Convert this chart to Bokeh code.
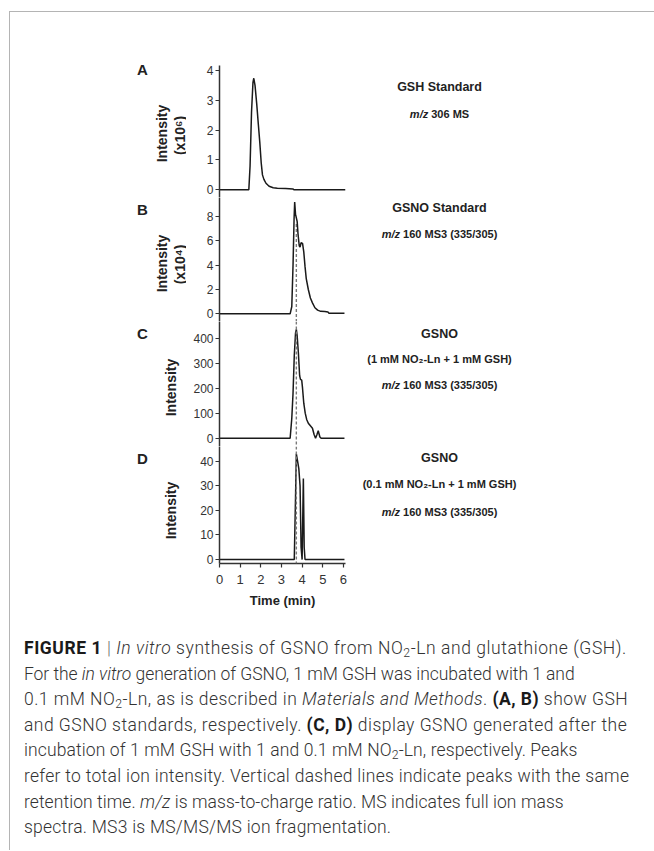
from math import pi
from bokeh.plotting import figure
from bokeh.models import Span, Div, Range1d, FixedTicker
from bokeh.layouts import column, row
from bokeh.core.properties import value
from bokeh.embed import file_html
from bokeh.resources import INLINE

# ---------------- data ----------------
time_a = [0, 1.42, 1.48, 1.55, 1.62, 1.66, 1.72, 1.80, 1.88, 1.95, 2.02, 2.08, 2.15, 2.25, 2.40, 2.60, 2.80, 3.20, 3.55, 3.60, 6.10]
int_a = [0, 0, 0.8, 2.6, 3.6, 3.74, 3.5, 2.9, 2.2, 1.6, 0.9, 0.5, 0.35, 0.22, 0.12, 0.07, 0.05, 0.04, 0.03, 0.0, 0.0]

time_b = [0, 3.42, 3.50, 3.56, 3.61, 3.64, 3.68, 3.72, 3.76, 3.80, 3.86, 3.90, 3.95, 4.02, 4.08, 4.14, 4.20, 4.30, 4.40, 4.50, 4.62, 4.75, 4.90, 5.10, 5.25, 5.30, 6.05]
int_b = [0, 0, 0.6, 4.0, 7.8, 9.2, 8.2, 7.9, 7.6, 6.6, 5.6, 5.5, 5.85, 5.8, 5.1, 3.9, 2.9, 2.0, 1.3, 0.9, 0.5, 0.3, 0.2, 0.18, 0.15, 0.05, 0.05]

time_c = [0, 3.42, 3.50, 3.56, 3.62, 3.68, 3.72, 3.76, 3.82, 3.88, 3.92, 3.98, 4.02, 4.08, 4.15, 4.22, 4.30, 4.40, 4.50, 4.58, 4.65, 4.72, 4.78, 4.86, 4.92, 6.05]
int_c = [0, 0, 80, 180, 330, 420, 435, 410, 340, 250, 235, 232, 200, 140, 100, 75, 60, 50, 40, 15, 0, 15, 30, 5, 0, 0]

time_d = [0, 3.62, 3.68, 3.72, 3.78, 3.84, 3.90, 3.95, 4.00, 4.06, 4.10, 4.14, 6.05]
int_d = [0, 0, 25, 43, 40, 37, 30, 5, 0, 33, 5, 0, 0]

retention_time = 3.72
peak_b = 7.4

ticks_a = [0, 1, 2, 3, 4]
ticks_b = [0, 2, 4, 6, 8]
ticks_c = [0, 100, 200, 300, 400]
ticks_d = [0, 10, 20, 30, 40]
ticks_x = [0, 1, 2, 3, 4, 5, 6]

panel_letters = ["A", "B", "C", "D"]
ylabels = [["Intensity", "(x10\u2076)"], ["Intensity", "(x10\u2074)"], ["Intensity"], ["Intensity"]]
titles = [
    ["GSH Standard", ("m/z", "306 MS")],
    ["GSNO Standard", ("m/z", "160 MS3 (335/305)")],
    ["GSNO", "(1 mM NO\u2082-Ln + 1 mM GSH)", ("m/z", "160 MS3 (335/305)")],
    ["GSNO", "(0.1 mM NO\u2082-Ln + 1 mM GSH)", ("m/z", "160 MS3 (335/305)")],
]
caption_lines = [
    '<b class="fig">FIGURE 1</b> <span class="bar">|</span> <i>In vitro</i> synthesis of GSNO from NO<sub>2</sub>-Ln and glutathione (GSH).',
    'For the <i>in vitro</i> generation of GSNO, 1 mM GSH was incubated with 1 and',
    '0.1 mM NO<sub>2</sub>-Ln, as is described in <i>Materials and Methods</i>. <b>(A, B)</b> show GSH',
    'and GSNO standards, respectively. <b>(C, D)</b> display GSNO generated after the',
    'incubation of 1 mM GSH with 1 and 0.1 mM NO<sub>2</sub>-Ln, respectively. Peaks',
    'refer to total ion intensity. Vertical dashed lines indicate peaks with the same',
    'retention time. <i>m/z</i> is mass-to-charge ratio. MS indicates full ion mass',
    'spectra. MS3 is MS/MS/MS ion fragmentation.',
]

# ---------------- layout constants (page pixels) ----------------
FONT = "Liberation Sans"
INK = "#222222"
AXC = "#333333"
X0, Y0 = 10, 12            # content origin (inside the grey frame lines)
LEFT_W = 176               # text column with panel letters / y labels
CH_LEFT, FRAME_W, CH_RIGHT = 33, 126, 6
CH_W = CH_LEFT + FRAME_W + CH_RIGHT
RIGHT_W = 643 - X0 - LEFT_W - CH_W
H_A, H_B, H_C, H_D = 185, 124, 125, 164
H_TOT = H_A + H_B + H_C + H_D
XL0 = X0 + LEFT_W + CH_W   # page x of the right text column

letter_pos = [(142, 69), (142, 209), (142, 333), (142, 458)]
ylabel_pos = [[(161.5, 133), (179, 135)], [(161.5, 263), (179, 264)], [(170, 387)], [(170, 510)]]
title_pos = [[86, 113], [207, 233], [333, 358, 384], [457, 483, 511]]
TITLE_CX = 439
HEAD_SIZE = 12.5           # first line of each panel title
SUB_SIZE = 11              # other lines
caption_spacing = [0.56, -0.05, 0.47, 0.47, 0.11, 0.29, 0.07, 0.23]   # px, per caption line

AW = {' ': 278, '(': 333, ')': 333, '+': 584, '-': 333, '.': 278, '/': 278,
      'G': 778, 'H': 722, 'L': 611, 'M': 833, 'N': 722, 'O': 778, 'S': 667,
      'a': 556, 'd': 611, 'm': 889, 'n': 611, 'r': 389, 't': 333, 'z': 500, '\u2082': 380}


def tw(s, size):
    return sum(AW.get(c, 556) for c in s) * size / 1000.0


def make_chart(height, yr, ticks, top=0, bottom=0, xaxis=False):
    p = figure(width=CH_W, height=height, x_range=Range1d(0, 6.1), y_range=Range1d(*yr),
               output_backend="svg", toolbar_location=None,
               x_axis_location="below" if xaxis else None,
               min_border_left=CH_LEFT, min_border_right=CH_RIGHT,
               min_border_top=top, min_border_bottom=bottom)
    p.outline_line_color = None
    p.grid.visible = False
    ax = p.yaxis[0]
    ax.ticker = FixedTicker(ticks=ticks)
    ax.axis_line_color = AXC
    ax.axis_line_width = 1.5
    ax.major_tick_line_color = AXC
    ax.major_tick_line_width = 1.2
    ax.major_tick_out = 4
    ax.major_tick_in = 0
    ax.minor_tick_line_color = None
    ax.major_label_text_font = FONT
    ax.major_label_text_font_size = "12px"
    ax.major_label_text_color = AXC
    ax.major_label_standoff = 2
    if xaxis:
        xa = p.xaxis[0]
        xa.ticker = FixedTicker(ticks=ticks_x)
        xa.axis_line_color = AXC
        xa.axis_line_width = 1.5
        xa.major_tick_line_color = AXC
        xa.major_tick_line_width = 1.2
        xa.major_tick_out = 4
        xa.major_tick_in = 0
        xa.minor_tick_line_color = None
        xa.major_label_text_font = FONT
        xa.major_label_text_font_size = "13px"
        xa.major_label_text_color = AXC
        xa.major_label_standoff = 7
        xa.axis_label = "Time (min)"
        xa.axis_label_text_font = FONT
        xa.axis_label_text_font_size = "13px"
        xa.axis_label_text_font_style = "bold"
        xa.axis_label_text_color = INK
        xa.axis_label_standoff = 6
    return p


def text_fig(width, x_start):
    p = figure(width=width, height=H_TOT, x_range=Range1d(x_start, x_start + width),
               y_range=Range1d(-(Y0 + H_TOT), -Y0), output_backend="svg",
               toolbar_location=None, x_axis_location=None, y_axis_location=None,
               min_border=0)
    p.outline_line_color = None
    p.grid.visible = False
    return p


def put(p, xs, ys, txts, size, style="bold", align="center", angle=0.0):
    p.text(x=xs, y=[-y for y in ys], text=txts, text_font=value(FONT),
           text_font_size=value(size), text_font_style=value(style),
           text_align=value(align), text_baseline=value("middle"),
           angle=angle, text_color=INK)


LINE = dict(line_color="#1a1a1a", line_width=1.5)
DASH = dict(line_color="#7a7a7a", line_width=1.4, line_dash="3 2")

# ---------------- chart panels ----------------
pa = make_chart(H_A, (-0.258, 4.168), ticks_a, top=53)
pa.line(time_a, int_a, **LINE)

pb = make_chart(H_B, (-0.634, 9.572), ticks_b)
pb.segment(x0=[retention_time], y0=[peak_b], x1=[retention_time], y1=[pb.y_range.start], **DASH)
pb.line(time_b, int_b, **LINE)

pc = make_chart(H_C, (-33.2, 466.8), ticks_c)
pc.add_layout(Span(location=retention_time, dimension="height", **DASH))
pc.line(time_c, int_c, **LINE)

pd = make_chart(H_D, (-1.6, 46.0), ticks_d, bottom=45, xaxis=True)
pd.add_layout(Span(location=retention_time, dimension="height", **DASH))
pd.line(time_d, int_d, **LINE)

# ---------------- text columns ----------------
left = text_fig(LEFT_W, X0)
put(left, [x for x, _ in letter_pos], [y for _, y in letter_pos], panel_letters, "15px")
lx, ly, lt = [], [], []
for labs, poss in zip(ylabels, ylabel_pos):
    for t, (x, y) in zip(labs, poss):
        lx.append(x); ly.append(y); lt.append(t)
put(left, lx, ly, lt, "14px", angle=pi / 2)

right = text_fig(RIGHT_W, XL0)
for items, ys in zip(titles, title_pos):
    for k, (item, y) in enumerate(zip(items, ys)):
        size = HEAD_SIZE if k == 0 else SUB_SIZE
        if isinstance(item, tuple):
            a, b = item
            x0 = TITLE_CX - tw(a + " " + b, size) / 2
            put(right, [x0], [y], [a], f"{size}px", style="bold italic", align="left")
            put(right, [x0 + tw(a + " ", size)], [y], [b], f"{size}px", align="left")
        else:
            put(right, [TITLE_CX], [y], [item], f"{size}px")

charts = column(pa, pb, pc, pd)
main = row(left, charts, right)

css = """
<style>
.cap { font-family: Roboto, 'Liberation Sans', sans-serif; font-weight: 300; font-size: 17.5px;
       line-height: 25.6px; color: #333; white-space: nowrap; padding: 26px 0 0 14px; }
.cap b { font-weight: 700; color: #1a1a1a; }
.cap .bar { color: #666; }
.cap sub { font-size: 70%; vertical-align: -0.25em; line-height: 0; }
</style>
"""
cap_html = "<br>".join(f'<span style="letter-spacing:{ls}px">{ln}</span>'
                       for ln, ls in zip(caption_lines, caption_spacing))
NOM = (0, 0, 0, 0)
cap = Div(text=css + '<div class="cap">' + cap_html + "</div>",
          width=643 - X0, height=236, margin=NOM, styles={"overflow": "hidden"})

GREY = {"background-color": "#b4b4b4"}
top_line = Div(text="", width=644, height=1, margin=NOM, styles=GREY)
left_line = Div(text="", width=1, height=839, margin=NOM, styles=GREY)
top_space = Div(text="", width=10, height=11, margin=NOM)
left_space = Div(text="", width=9, height=10, margin=NOM)

root = column(top_space, row(left_space, left_line, column(top_line, main, cap)))

open("out.html", "w").write(file_html(root, INLINE))
